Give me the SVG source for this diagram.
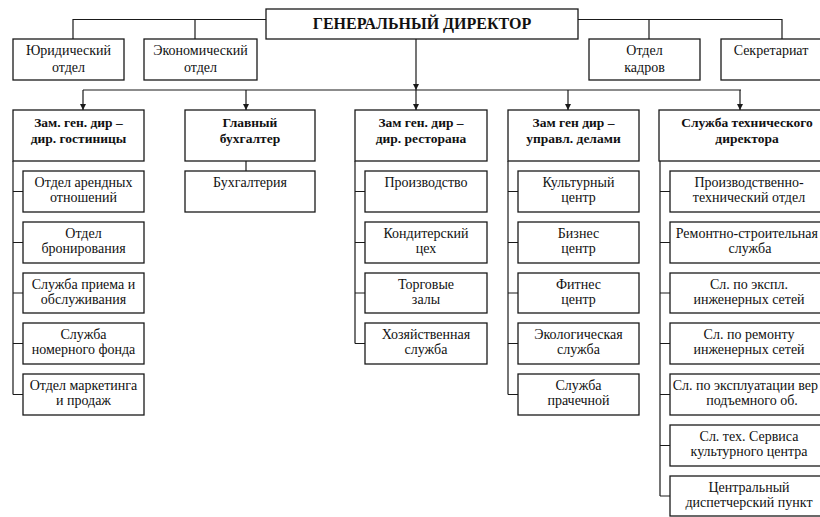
<svg xmlns="http://www.w3.org/2000/svg" width="820" height="517" viewBox="0 0 820 517" font-family="Liberation Serif, Times New Roman, serif">
<style>
.b{fill:#fff;stroke:#1a1a1a;stroke-width:1.3}
.c{fill:none;stroke:#1a1a1a;stroke-width:1.2}
text{font-family:"Liberation Serif",serif;font-size:14px;fill:#111;text-anchor:middle}
.h{font-weight:bold;font-size:13.5px}
.g{font-weight:bold;font-size:16px}
</style>
<defs>
<marker id="ar" viewBox="0 0 8 8" refX="8" refY="4" markerWidth="6" markerHeight="6" markerUnits="userSpaceOnUse" orient="auto">
<path d="M0,0 L8,4 L0,8 z" fill="#1a1a1a"/>
</marker>
</defs>
<g id="connectors" class="c">
<polyline points="73,39 73,19.5 266,19.5"/>
<line x1="195" y1="19.5" x2="195" y2="39"/>
<polyline points="578,19.5 782,19.5 782,39"/>
<line x1="649" y1="19.5" x2="649" y2="39"/>
<line x1="416" y1="39" x2="416" y2="90" marker-end="url(#ar)"/>
<line x1="83" y1="90" x2="741" y2="90"/>
<line x1="83" y1="90" x2="83" y2="110" marker-end="url(#ar)"/>
<line x1="246" y1="90" x2="246" y2="110" marker-end="url(#ar)"/>
<line x1="416" y1="90" x2="416" y2="110" marker-end="url(#ar)"/>
<line x1="568" y1="90" x2="568" y2="110" marker-end="url(#ar)"/>
<line x1="740" y1="90" x2="740" y2="110" marker-end="url(#ar)"/>
<path d="M13,161 V394.5 M13,191.5 H23 M13,242.5 H23 M13,293 H23 M13,343.5 H23 M13,394.5 H23"/>
<line x1="246" y1="161" x2="246" y2="171"/>
<path d="M355,161 V343.5 M355,191.5 H365 M355,242.5 H365 M355,293 H365 M355,343.5 H365"/>
<path d="M508,161 V394.5 M508,191.5 H518 M508,242.5 H518 M508,293 H518 M508,343.5 H518 M508,394.5 H518"/>
<path d="M660,161 V496 M660,191.5 H670 M660,242.5 H670 M660,293 H670 M660,343.5 H670 M660,394.5 H670 M660,445.5 H670 M660,496 H670"/>
</g>
<g id="gd"><rect class="b" x="266" y="9" width="312" height="30"/><text class="g" x="422" y="29">ГЕНЕРАЛЬНЫЙ ДИРЕКТОР</text></g>
<g id="jur"><rect class="b" x="13" y="39" width="111" height="41"/><text x="68.5" y="55">Юридический</text><text x="68.5" y="72">отдел</text></g>
<g id="econ"><rect class="b" x="144" y="39" width="113" height="41"/><text x="200.5" y="55">Экономический</text><text x="200.5" y="72">отдел</text></g>
<g id="kadry"><rect class="b" x="589" y="39" width="111" height="41"/><text x="644.5" y="55">Отдел</text><text x="644.5" y="72">кадров</text></g>
<g id="secr"><rect class="b" x="721" y="39" width="110" height="41"/><text x="771" y="55">Секретариат</text></g>

<g id="hotel"><rect class="b" x="13" y="110" width="131" height="51"/><text class="h" x="78.5" y="127">Зам. ген. дир –</text><text class="h" x="78.5" y="143">дир. гостиницы</text></g>
<g id="h1"><rect class="b" x="23" y="171" width="121" height="41"/><text x="83.5" y="187">Отдел арендных</text><text x="83.5" y="202">отношений</text></g>
<g id="h2"><rect class="b" x="23" y="222" width="121" height="41"/><text x="83.5" y="238">Отдел</text><text x="83.5" y="253">бронирования</text></g>
<g id="h3"><rect class="b" x="23" y="273" width="121" height="40"/><text x="83.5" y="289">Служба приема и</text><text x="83.5" y="304">обслуживания</text></g>
<g id="h4"><rect class="b" x="23" y="323" width="121" height="41"/><text x="83.5" y="339">Служба</text><text x="83.5" y="354">номерного фонда</text></g>
<g id="h5"><rect class="b" x="23" y="374" width="121" height="41"/><text x="83.5" y="390">Отдел маркетинга</text><text x="83.5" y="405">и продаж</text></g>

<g id="buh"><rect class="b" x="185" y="110" width="130" height="51"/><text class="h" x="250" y="127">Главный</text><text class="h" x="250" y="143">бухгалтер</text></g>
<g id="b1"><rect class="b" x="185" y="171" width="130" height="41"/><text x="250" y="187">Бухгалтерия</text></g>

<g id="rest"><rect class="b" x="355" y="110" width="132" height="51"/><text class="h" x="421" y="127">Зам ген. дир –</text><text class="h" x="421" y="143">дир. ресторана</text></g>
<g id="r1"><rect class="b" x="365" y="171" width="122" height="41"/><text x="426" y="187">Производство</text></g>
<g id="r2"><rect class="b" x="365" y="222" width="122" height="41"/><text x="426" y="238">Кондитерский</text><text x="426" y="253">цех</text></g>
<g id="r3"><rect class="b" x="365" y="273" width="122" height="40"/><text x="426" y="289">Торговые</text><text x="426" y="304">залы</text></g>
<g id="r4"><rect class="b" x="365" y="323" width="122" height="41"/><text x="426" y="339">Хозяйственная</text><text x="426" y="354">служба</text></g>

<g id="upr"><rect class="b" x="508" y="110" width="131" height="51"/><text class="h" x="573.5" y="127">Зам ген дир –</text><text class="h" x="573.5" y="143">управл. делами</text></g>
<g id="u1"><rect class="b" x="518" y="171" width="121" height="41"/><text x="578.5" y="187">Культурный</text><text x="578.5" y="202">центр</text></g>
<g id="u2"><rect class="b" x="518" y="222" width="121" height="41"/><text x="578.5" y="238">Бизнес</text><text x="578.5" y="253">центр</text></g>
<g id="u3"><rect class="b" x="518" y="273" width="121" height="40"/><text x="578.5" y="289">Фитнес</text><text x="578.5" y="304">центр</text></g>
<g id="u4"><rect class="b" x="518" y="323" width="121" height="41"/><text x="578.5" y="339">Экологическая</text><text x="578.5" y="354">служба</text></g>
<g id="u5"><rect class="b" x="518" y="374" width="121" height="41"/><text x="578.5" y="390">Служба</text><text x="578.5" y="405">прачечной</text></g>

<g id="tech"><rect class="b" x="659" y="110" width="180" height="51"/><text class="h" x="747" y="127">Служба технического</text><text class="h" x="747" y="143">директора</text></g>
<g id="t1"><rect class="b" x="670" y="171" width="160" height="41"/><text x="749" y="187">Производственно-</text><text x="749" y="202">технический отдел</text></g>
<g id="t2"><rect class="b" x="670" y="222" width="160" height="41"/><text x="818" y="238" style="text-anchor:end">Ремонтно-строительная</text><text x="750" y="253">служба</text></g>
<g id="t3"><rect class="b" x="670" y="273" width="160" height="40"/><text x="749" y="289">Сл. по экспл.</text><text x="749" y="304">инженерных сетей</text></g>
<g id="t4"><rect class="b" x="670" y="323" width="160" height="41"/><text x="749" y="339">Сл. по ремонту</text><text x="749" y="354">инженерных сетей</text></g>
<g id="t5"><rect class="b" x="670" y="374" width="160" height="41"/><text x="818" y="390" style="text-anchor:end">Сл. по эксплуатации вер</text><text x="752" y="405">подъемного об.</text></g>
<g id="t6"><rect class="b" x="670" y="425" width="160" height="41"/><text x="749" y="441">Сл. тех. Сервиса</text><text x="749" y="456">культурного центра</text></g>
<g id="t7"><rect class="b" x="670" y="476" width="160" height="40"/><text x="749" y="492">Центральный</text><text x="749" y="507">диспетчерский пункт</text></g>
</svg>
